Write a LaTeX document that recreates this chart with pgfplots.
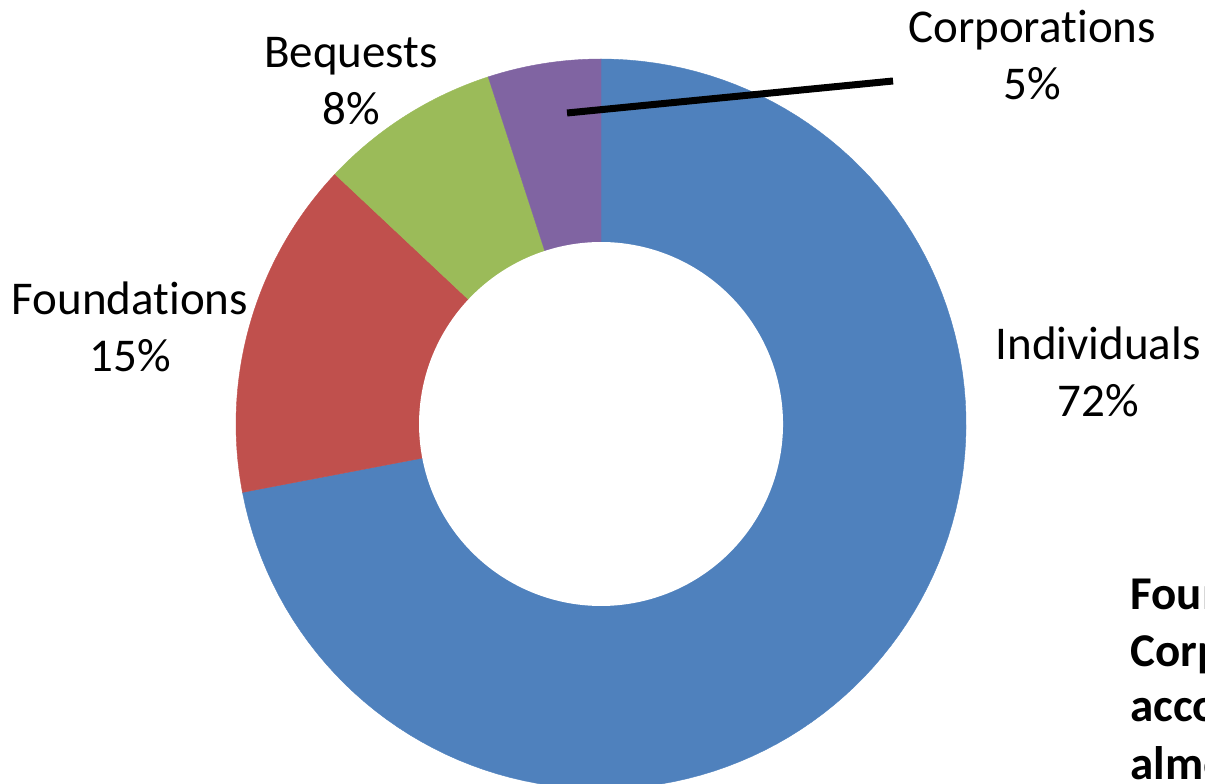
\documentclass[border=0pt]{standalone}
\usepackage{pgfplots}
\pgfplotsset{compat=1.18}
\usepackage{fontspec}
\setmainfont{Carlito}[Ligatures=CommonOff]
\definecolor{cInd}{HTML}{4F81BD}
\definecolor{cFou}{HTML}{C0504D}
\definecolor{cBeq}{HTML}{9BBB59}
\definecolor{cCor}{HTML}{8064A2}
% #1 = cumulative percent before slice, #2 = slice percent, #3 = colour
\newcommand{\donutslice}[3]{%
  \addplot[fill=#3, draw=#3, line width=0.4pt, variable=\t, samples at={-1,0,1,...,120}]
    ({(\t<0) ? 0 : 365*cos(90-3.6*(#1)-3.6*(#2)*\t/120)},
     {(\t<0) ? 0 : 365*sin(90-3.6*(#1)-3.6*(#2)*\t/120)}) -- cycle;
}
\newcommand{\lbl}{\fontsize{47}{56}\selectfont}
\begin{document}
\begin{tikzpicture}
\useasboundingbox (0,0) rectangle (1205pt,784pt);
\clip (0,0) rectangle (1205pt,784pt);
\begin{axis}[
  at={(0,0)}, anchor=south west,
  width=1205pt, height=784pt, scale only axis,
  xmin=-601, xmax=604, ymin=-360, ymax=424,
  hide axis, clip=false,
]
% values: Individuals 72, Foundations 15, Bequests 8, Corporations 5
\donutslice{0}{72}{cInd}
\donutslice{72}{15}{cFou}
\donutslice{87}{8}{cBeq}
\donutslice{95}{5}{cCor}
\addplot[fill=white, draw=none, domain=0:360, samples=200] ({182*cos(x)},{182*sin(x)}) -- cycle;
% leader line for Corporations
\addplot[black, line width=7pt] coordinates {(-34,311) (292,343)};
% labels
\node[anchor=base, font=\lbl] at (axis cs:431,381) {Corporations};
\node[anchor=base, font=\lbl] at (axis cs:431,324) {5\%};
\node[anchor=base, font=\lbl] at (axis cs:-250,356) {Bequests};
\node[anchor=base, font=\lbl] at (axis cs:-250,299) {8\%};
\node[anchor=base, font=\lbl] at (axis cs:-471,109) {Foundations};
\node[anchor=base, font=\lbl] at (axis cs:-471,52) {15\%};
\node[anchor=base, font=\lbl] at (axis cs:497,64) {Individuals};
\node[anchor=base, font=\lbl] at (axis cs:497,7) {72\%};
% side note (cut off at right edge, as in the reference)
\node[anchor=base west, font=\lbl\bfseries] at (axis cs:526,-186) {Foundations and};
\node[anchor=base west, font=\lbl\bfseries] at (axis cs:526,-243) {Corporations};
\node[anchor=base west, font=\lbl\bfseries] at (axis cs:526,-298) {account for};
\node[anchor=base west, font=\lbl\bfseries] at (axis cs:526,-356) {almost};
\end{axis}
\end{tikzpicture}
\end{document}
